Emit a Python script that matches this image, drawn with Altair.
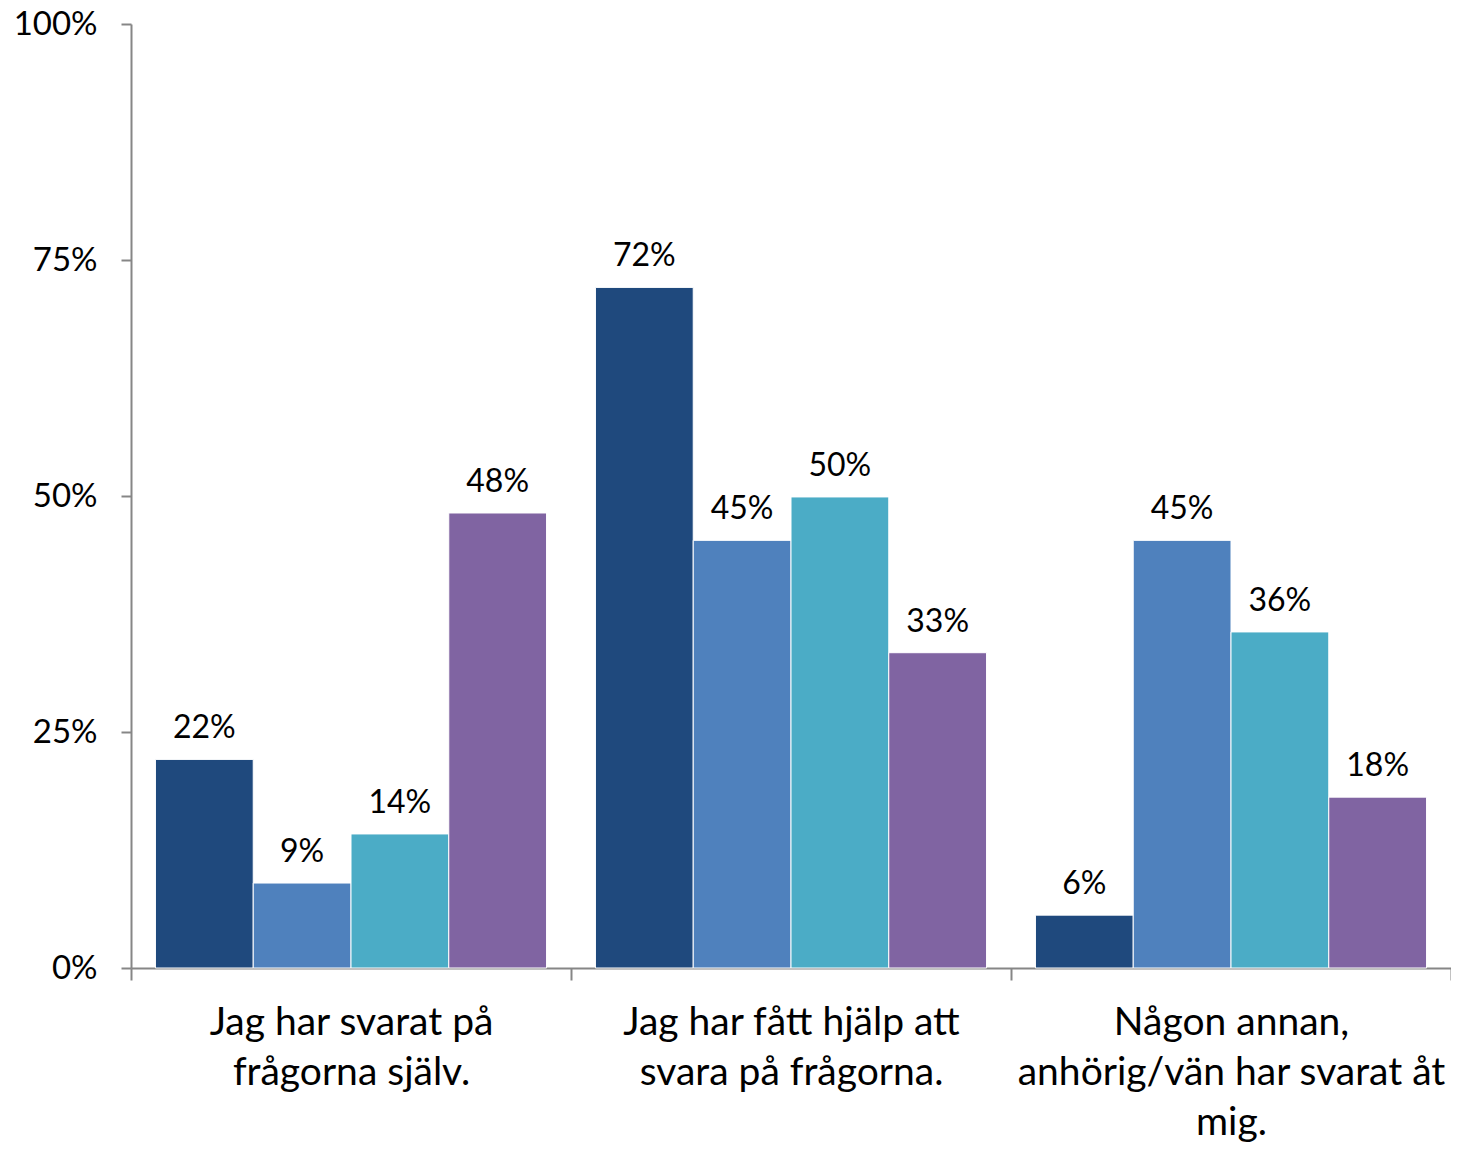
import altair as alt
import pandas as pd

categories = [
    "Jag har svarat på frågorna själv.",
    "Jag har fått hjälp att svara på frågorna.",
    "Någon annan, anhörig/vän har svarat åt mig.",
]
label_lines = [
    ["Jag har svarat på", "frågorna själv."],
    ["Jag har fått hjälp att", "svara på frågorna."],
    ["Någon annan,", "anhörig/vän har svarat åt", "mig."],
]
series = ["Serie 1", "Serie 2", "Serie 3", "Serie 4"]
serie1 = [0.221, 0.721, 0.056]
serie2 = [0.090, 0.453, 0.453]
serie3 = [0.142, 0.499, 0.356]
serie4 = [0.482, 0.334, 0.181]
colors = ["#1F497D", "#4F81BD", "#4BACC6", "#8064A2"]

rows = []
for s, vals in zip(series, [serie1, serie2, serie3, serie4]):
    for c, v in zip(categories, vals):
        rows.append({"kategori": c, "serie": s, "andel": v})
df = pd.DataFrame(rows)

# build label expression for multi-line category labels
expr = "''"
for c, lines in reversed(list(zip(categories, label_lines))):
    arr = "[" + ",".join("'" + l + "'" for l in lines) + "]"
    expr = f"datum.value == '{c}' ? {arr} : ({expr})"

FONT = "Lato"
AXIS_COLOR = "#868686"

base = alt.Chart(df).encode(
    x=alt.X(
        "kategori:N",
        sort=categories,
        title=None,
        scale=alt.Scale(paddingInner=0, paddingOuter=0),
        axis=alt.Axis(
            labelExpr=expr,
            labelAngle=0,
            labelFont=FONT,
            labelFontSize=39,
            labelLineHeight=50,
            labelColor="#000000",
            labelPadding=23,
            tickBand="extent",
            tickSize=12,
            tickColor=AXIS_COLOR,
            tickWidth=2,
            domainColor=AXIS_COLOR,
            domainWidth=2,
            labelLimit=600,
            grid=False,
        ),
    ),
    xOffset=alt.XOffset(
        "serie:N",
        sort=series,
        scale=alt.Scale(paddingInner=0, paddingOuter=0.25),
    ),
    y=alt.Y(
        "andel:Q",
        title=None,
        scale=alt.Scale(domain=[0, 1], nice=False),
        axis=alt.Axis(
            values=[0, 0.25, 0.5, 0.75, 1],
            format=".0%",
            grid=False,
            labelFont=FONT,
            labelFontSize=33,
            labelColor="#000000",
            labelPadding=24,
            tickSize=10,
            tickColor=AXIS_COLOR,
            tickWidth=2,
            domainColor=AXIS_COLOR,
            domainWidth=2,
        ),
    ),
)

bars = base.mark_bar(stroke="white", strokeWidth=1).encode(
    color=alt.Color(
        "serie:N", sort=series, scale=alt.Scale(domain=series, range=colors), legend=None
    )
)

text = base.mark_text(
    baseline="bottom", dy=-14, font=FONT, fontSize=32, color="#000000"
).encode(text=alt.Text("andel:Q", format=".0%"))

chart = (
    alt.layer(bars, text)
    .properties(
        width=1320,
        height=944,
        autosize="none",
        padding={"left": 123, "top": 16, "right": 0, "bottom": 174},
        view=alt.ViewBackground(stroke="transparent", strokeWidth=0),
    )
    .configure_view(stroke="transparent", strokeWidth=0, strokeOpacity=0)
    .configure_axis(grid=False)
    .configure(background="white")
)

chart.save("out.html", embed_options={"renderer": "svg", "actions": False})
